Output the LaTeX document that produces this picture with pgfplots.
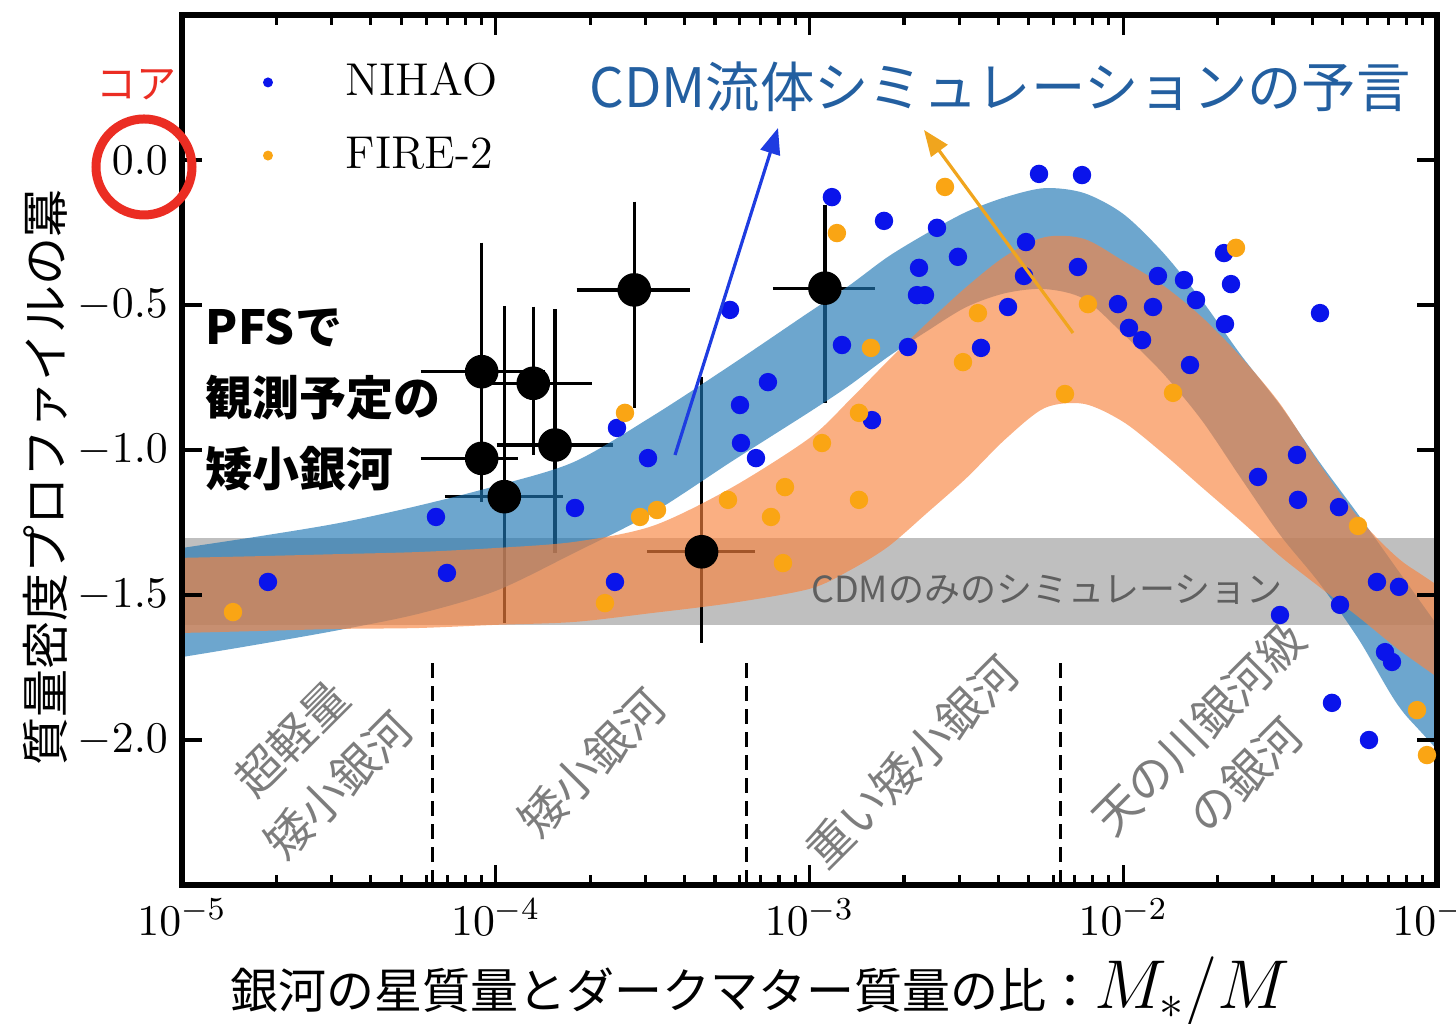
\documentclass[border=0pt]{standalone}
\usepackage{fontspec}
\usepackage{pgfplots}
\pgfplotsset{compat=1.18}
\usetikzlibrary{arrows.meta}
\newfontfamily\jp{Noto Sans CJK JP}
\definecolor{nihaoblue}{RGB}{10,20,235}
\definecolor{fireorange}{RGB}{250,165,20}
\definecolor{tabblue}{RGB}{31,119,180}
\definecolor{bandorange}{RGB}{248,132,63}
\definecolor{titleblue}{RGB}{35,95,160}
\definecolor{annred}{RGB}{235,45,35}
\definecolor{arrowblue}{RGB}{30,60,225}
\definecolor{arroworange}{RGB}{240,165,30}
\definecolor{labgray}{RGB}{125,125,125}
\definecolor{cdmgray}{RGB}{95,95,95}

% NIHAO prediction band: upper edge left->right, then lower edge right->left
\pgfplotstableread{
x y
3.162e-6 -1.420
1e-5 -1.338
1.778e-5 -1.297
3.162e-5 -1.252
5.623e-5 -1.193
1e-4 -1.124
1.778e-4 -1.041
3.162e-4 -0.883
5.623e-4 -0.707
1e-3 -0.524
1.334e-3 -0.434
1.778e-3 -0.334
2.371e-3 -0.252
3.162e-3 -0.179
4.217e-3 -0.128
5.623e-3 -0.097
7.499e-3 -0.114
1e-2 -0.186
1.334e-2 -0.317
1.778e-2 -0.483
2.371e-2 -0.672
3.162e-2 -0.845
4.217e-2 -1.041
5.623e-2 -1.224
7.499e-2 -1.414
1e-1 -1.603
3.162e-1 -2.360
3.162e-1 -2.650
1e-1 -2.034
7.499e-2 -1.879
5.623e-2 -1.652
4.217e-2 -1.459
3.162e-2 -1.293
2.371e-2 -1.097
1.778e-2 -0.897
1.334e-2 -0.734
1e-2 -0.600
7.499e-3 -0.479
5.623e-3 -0.445
4.217e-3 -0.459
3.162e-3 -0.507
2.371e-3 -0.590
1.778e-3 -0.679
1.334e-3 -0.779
1e-3 -0.869
5.623e-4 -1.041
3.162e-4 -1.217
1.778e-4 -1.355
1e-4 -1.486
5.623e-5 -1.566
3.162e-5 -1.621
1.778e-5 -1.669
1e-5 -1.714
3.162e-6 -1.800
}\blueband

% FIRE-2 prediction band
\pgfplotstableread{
x y
3.162e-6 -1.384
1e-5 -1.372
1.778e-5 -1.366
3.162e-5 -1.359
5.623e-5 -1.352
1e-4 -1.338
1.778e-4 -1.317
3.162e-4 -1.262
5.623e-4 -1.131
1e-3 -0.959
1.334e-3 -0.831
1.778e-3 -0.693
2.371e-3 -0.562
3.162e-3 -0.438
4.217e-3 -0.331
5.623e-3 -0.266
7.499e-3 -0.272
1e-2 -0.348
1.334e-2 -0.431
1.778e-2 -0.541
2.371e-2 -0.679
3.162e-2 -0.841
4.217e-2 -1.048
5.623e-2 -1.234
7.499e-2 -1.372
1e-1 -1.466
3.162e-1 -1.840
3.162e-1 -2.170
1e-1 -1.783
7.499e-2 -1.686
5.623e-2 -1.576
4.217e-2 -1.472
3.162e-2 -1.366
2.371e-2 -1.245
1.778e-2 -1.128
1.334e-2 -1.010
1e-2 -0.903
7.499e-3 -0.841
5.623e-3 -0.855
4.217e-3 -0.962
3.162e-3 -1.097
2.371e-3 -1.217
1.778e-3 -1.334
1.334e-3 -1.417
1e-3 -1.479
5.623e-4 -1.528
3.162e-4 -1.562
1.778e-4 -1.593
1e-4 -1.603
5.623e-5 -1.614
3.162e-5 -1.617
1.778e-5 -1.624
1e-5 -1.631
3.162e-6 -1.645
}\orangeband

\pgfplotstableread{
x y
5.39e-3 -0.048
7.39e-3 -0.052
1.179e-3 -0.128
1.728e-3 -0.210
2.549e-3 -0.234
2.973e-3 -0.334
2.234e-3 -0.372
2.201e-3 -0.466
2.334e-3 -0.466
4.898e-3 -0.283
7.173e-3 -0.369
4.827e-3 -0.400
4.293e-3 -0.507
3.521e-3 -0.648
2.060e-3 -0.645
9.62e-3 -0.497
1.244e-2 -0.507
1.043e-2 -0.579
1.148e-2 -0.621
1.290e-2 -0.400
1.562e-2 -0.414
1.706e-2 -0.483
2.095e-2 -0.321
2.205e-2 -0.428
2.110e-2 -0.566
4.238e-2 -0.528
1.632e-2 -0.707
3.580e-2 -1.017
2.689e-2 -1.093
3.606e-2 -1.172
4.871e-2 -1.197
6.437e-2 -1.455
7.566e-2 -1.472
3.159e-2 -1.569
4.907e-2 -1.534
6.830e-2 -1.697
7.187e-2 -1.731
4.627e-2 -1.872
6.072e-2 -2.000
5.580e-4 -0.517
7.374e-4 -0.766
6.005e-4 -0.845
6.049e-4 -0.976
6.753e-4 -1.028
1.269e-3 -0.638
1.582e-3 -0.897
2.435e-4 -0.924
3.057e-4 -1.028
1.789e-4 -1.200
6.45e-5 -1.231
6.99e-5 -1.424
1.880e-5 -1.455
2.399e-4 -1.455
}\nihao

\pgfplotstableread{
x y
2.703e-3 -0.093
1.223e-3 -0.252
2.288e-2 -0.303
2.582e-4 -0.872
2.883e-4 -1.231
3.266e-4 -1.207
2.229e-4 -1.528
1.454e-5 -1.559
5.498e-4 -1.172
7.539e-4 -1.231
8.354e-4 -1.128
1.096e-3 -0.976
1.438e-3 -0.872
1.438e-3 -1.172
8.232e-4 -1.390
3.085e-3 -0.697
3.443e-3 -0.528
6.52e-3 -0.807
7.720e-3 -0.497
1.441e-2 -0.803
5.601e-2 -1.262
1.570e-3 -0.648
8.636e-2 -1.897
9.29e-2 -2.052
}\fire

\pgfplotstableread{
x y
9.02e-5 -0.730
1.317e-4 -0.770
9.02e-5 -1.029
1.545e-4 -0.983
1.065e-4 -1.161
2.764e-4 -0.448
4.53e-4 -1.351
1.12e-3 -0.442
}\pfs

\begin{document}
\begin{tikzpicture}
\begin{axis}[
  scale only axis, width=313.75pt, height=217.5pt,
  xmode=log, xmin=1e-5, xmax=1e-1, ymin=-2.5, ymax=0.5,
  axis on top,
  xtick={1e-5,1e-4,1e-3,1e-2,1e-1},
  ytick={-2,-1.5,-1,-0.5,0},
  yticklabel style={/pgf/number format/.cd, fixed, fixed zerofill, precision=1},
  tick align=inside, tick pos=both,
  major tick length=5pt, minor tick length=2.5pt,
  axis line style={line width=1.5pt},
  tick style={black, line width=0.8pt},
  tick label style={font=\fontsize{11}{13}\selectfont},
  xlabel={\jp\fontsize{12}{14}\selectfont 銀河の星質量とダークマター質量の比：\fontsize{18.5}{20}\selectfont$M_*/M$},
  xlabel style={at={(axis description cs:0.4606,-0.1414)}, anchor=base},
  ylabel={\jp\fontsize{12}{14}\selectfont 質量密度プロファイルの冪},
  ylabel style={at={(axis description cs:-0.1092,0.4678)}, anchor=center},
  legend style={draw=none, fill=none, inner sep=0pt, outer sep=0pt,
    at={(axis description cs:0.0526,0.954)}, anchor=north west,
    row sep=4.75pt, column sep=12.5pt, font=\fontsize{11.5}{13}\selectfont},
  legend cell align=left,
]
% gray band: CDM-only simulations
\addplot[fill=gray, fill opacity=0.5, draw=none, forget plot] coordinates {(1e-5,-1.303) (1e-1,-1.303) (1e-1,-1.603) (1e-5,-1.603)} -- cycle;
% PFS error bars
\addplot[black, line width=0.8pt, unbounded coords=jump, forget plot] table {
x y
5.76e-5 -0.730
1.436e-4 -0.730
nan nan
9.02e-5 -0.285
9.02e-5 -1.172
nan nan
9.59e-5 -0.770
2.026e-4 -0.770
nan nan
1.317e-4 -0.506
1.317e-4 -1.017
nan nan
5.76e-5 -1.029
1.178e-4 -1.029
nan nan
9.02e-5 -0.879
9.02e-5 -1.179
nan nan
1.007e-4 -0.983
2.37e-4 -0.983
nan nan
1.545e-4 -0.515
1.545e-4 -1.355
nan nan
6.89e-5 -1.161
1.642e-4 -1.161
nan nan
1.065e-4 -0.503
1.065e-4 -1.598
nan nan
1.811e-4 -0.448
4.16e-4 -0.448
nan nan
2.764e-4 -0.144
2.764e-4 -0.856
nan nan
3.03e-4 -1.351
6.71e-4 -1.351
nan nan
4.53e-4 -0.747
4.53e-4 -1.667
nan nan
7.65e-4 -0.442
1.617e-3 -0.442
nan nan
1.12e-3 -0.155
1.12e-3 -0.839
};
% simulation points
\addplot[only marks, mark=*, mark size=2.1pt, color=nihaoblue,
  legend image code/.code={\path[draw=none, fill=none] (-5pt,-4.5pt) rectangle (5pt,4.5pt); \fill[nihaoblue, draw=none] (0pt,0pt) circle (1.25pt);}]
  table[x=x, y=y] {\nihao};
\addlegendentry{NIHAO}
\addplot[only marks, mark=*, mark size=2.1pt, color=fireorange,
  legend image code/.code={\path[draw=none, fill=none] (-5pt,-4.5pt) rectangle (5pt,4.5pt); \fill[fireorange, draw=none] (0pt,0pt) circle (1.25pt);}]
  table[x=x, y=y] {\fire};
\addlegendentry{FIRE-2}
% prediction bands
\addplot[fill=tabblue, fill opacity=0.65, draw=none, smooth, forget plot] table[x=x, y=y] {\blueband} -- cycle;
\addplot[fill=bandorange, fill opacity=0.65, draw=none, smooth, forget plot] table[x=x, y=y] {\orangeband} -- cycle;
% PFS points
\addplot[only marks, mark=*, mark size=4pt, black, forget plot] table[x=x, y=y] {\pfs};
% class boundaries
\addplot[black, line width=0.75pt, dash pattern=on 3.75pt off 2pt, unbounded coords=jump, forget plot] table {
x y
6.3e-5 -2.5
6.3e-5 -1.707
nan nan
6.3e-4 -2.5
6.3e-4 -1.707
nan nan
6.3e-3 -2.5
6.3e-3 -1.707
};
\end{axis}
% annotations (axis frame lower-left at origin, 4 px per pt)
\node[text=titleblue, font=\fontsize{13.6}{15}\selectfont\jp] at (204.5pt,199.5pt) {CDM流体シミュレーションの予言};
\node[anchor=west, align=left, inner sep=0pt, font=\fontsize{11.75}{17.75}\selectfont\jp\bfseries] at (5.75pt,121.25pt) {PFSで\\観測予定の\\矮小銀河};
\node[text=cdmgray, font=\fontsize{9}{11}\selectfont\jp] at (216.25pt,73.75pt) {CDMのみのシミュレーション};
\node[rotate=45, align=center, text=labgray, font=\fontsize{11.5}{16.5}\selectfont\jp] at (33.25pt,30.75pt) {超軽量\\矮小銀河};
\node[rotate=45, align=center, text=labgray, font=\fontsize{11.5}{16.5}\selectfont\jp] at (102.5pt,30.5pt) {矮小銀河};
\node[rotate=45, align=center, text=labgray, font=\fontsize{11.5}{16.5}\selectfont\jp] at (182.5pt,30.75pt) {重い矮小銀河};
\node[rotate=45, align=center, text=labgray, font=\fontsize{11.5}{16.5}\selectfont\jp] at (260pt,33.25pt) {天の川銀河級\\の銀河};
\node[text=annred, font=\fontsize{10}{12}\selectfont\jp] at (-11.25pt,200pt) {コア};
\draw[annred, line width=2.25pt] (-9.5pt,179.5pt) circle[radius=12pt];
\draw[arrowblue, line width=0.8pt, -{Triangle[length=6.5pt,width=5pt]}] (123.25pt,107.5pt) -- (149pt,189.25pt);
\draw[arroworange, line width=0.8pt, -{Triangle[length=6.5pt,width=5pt]}] (222.75pt,138pt) -- (185.5pt,188.75pt);
\pgfresetboundingbox
\path[use as bounding box] (-45.5pt,-34.75pt) rectangle (318.5pt,221.25pt);
\end{tikzpicture}
\end{document}
